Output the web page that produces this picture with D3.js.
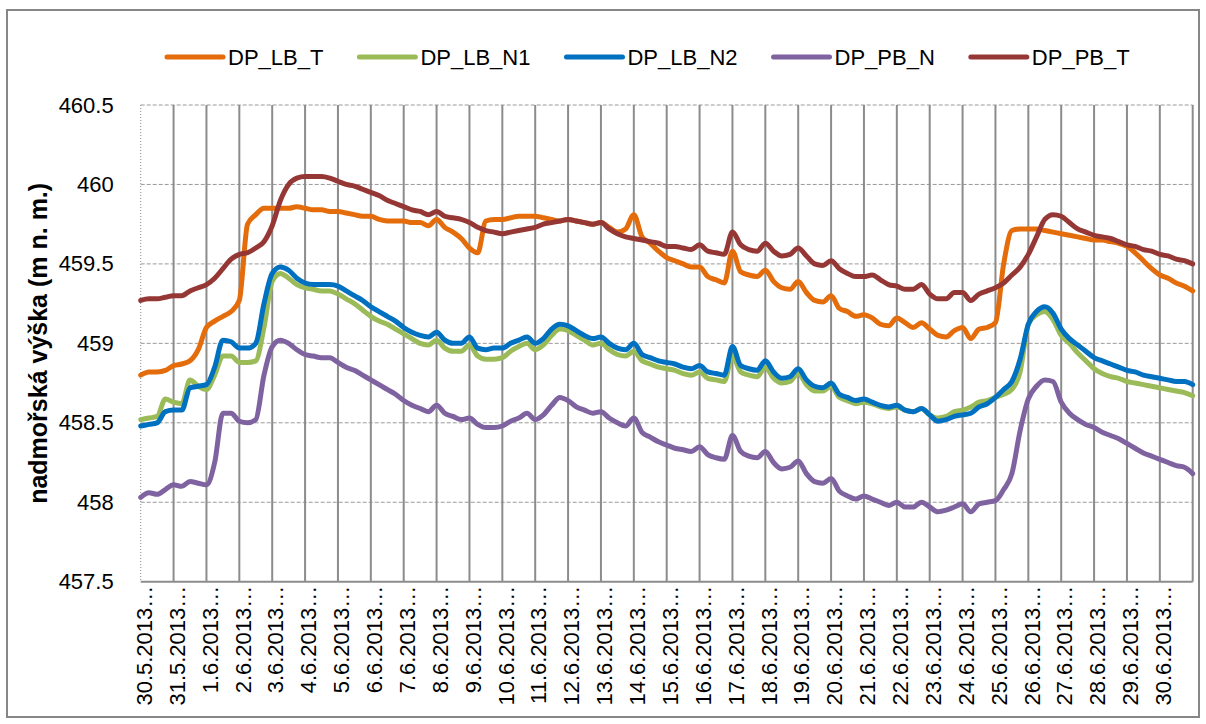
<!DOCTYPE html>
<html>
<head>
<meta charset="utf-8">
<script src="https://cdn.jsdelivr.net/npm/d3@7"></script>
<style>
  body { margin: 0; background: #fff; }
  text { font-family: "Liberation Sans", Arial, sans-serif; fill: #000; }
</style>
</head>
<body>
<div id="chart"></div>
<script>
// day labels (one per day, readings every 6 hours)
const dayLabels = [
    "30.5.2013", "31.5.2013", "1.6.2013", "2.6.2013", "3.6.2013", "4.6.2013",
    "5.6.2013", "6.6.2013", "7.6.2013", "8.6.2013", "9.6.2013", "10.6.2013",
    "11.6.2013", "12.6.2013", "13.6.2013", "14.6.2013", "15.6.2013", "16.6.2013",
    "17.6.2013", "18.6.2013", "19.6.2013", "20.6.2013", "21.6.2013", "22.6.2013",
    "23.6.2013", "24.6.2013", "25.6.2013", "26.6.2013", "27.6.2013", "28.6.2013",
    "29.6.2013", "30.6.2013"
];

const yTicks = [457.5, 458, 458.5, 459, 459.5, 460, 460.5];

const seriesNames = ["DP_LB_T", "DP_LB_N1", "DP_LB_N2", "DP_PB_N", "DP_PB_T"];
const seriesColors = ["#e46c0a", "#9bbb59", "#0070c0", "#7f63a1", "#953735"];

const dp_lb_t = [
    458.80, 458.82, 458.82, 458.83,  458.86, 458.87, 458.89, 458.96,
    459.10, 459.14, 459.17, 459.20,  459.27, 459.75, 459.81, 459.85,
    459.85, 459.85, 459.85, 459.86,  459.85, 459.84, 459.84, 459.83,
    459.83, 459.82, 459.81, 459.80,  459.80, 459.78, 459.77, 459.77,
    459.77, 459.76, 459.76, 459.74,  459.78, 459.73, 459.70, 459.66,
    459.60, 459.57, 459.77, 459.78,  459.78, 459.79, 459.80, 459.80,
    459.80, 459.79, 459.78, 459.77,  459.78, 459.77, 459.76, 459.75,
    459.76, 459.73, 459.70, 459.72,  459.81, 459.67, 459.63, 459.58,
    459.54, 459.52, 459.50, 459.48,  459.48, 459.42, 459.40, 459.38,
    459.58, 459.45, 459.43, 459.42,  459.46, 459.39, 459.35, 459.34,
    459.39, 459.32, 459.27, 459.26,  459.30, 459.22, 459.20, 459.17,
    459.18, 459.16, 459.12, 459.11,  459.16, 459.13, 459.10, 459.13,
    459.09, 459.05, 459.04, 459.08,  459.10, 459.03, 459.09, 459.10,
    459.13, 459.50, 459.71, 459.72,  459.72, 459.72, 459.71, 459.70,
    459.69, 459.68, 459.67, 459.66,  459.65, 459.65, 459.64, 459.63,
    459.61, 459.57, 459.52, 459.47,  459.43, 459.41, 459.38, 459.36,
    459.33
];

const dp_lb_n1 = [
    458.52, 458.53, 458.54, 458.65,  458.63, 458.62, 458.77, 458.73,
    458.71, 458.80, 458.92, 458.92,  458.88, 458.88, 458.89, 459.10,
    459.39, 459.44, 459.41, 459.37,  459.35, 459.34, 459.33, 459.33,
    459.31, 459.28, 459.25, 459.21,  459.17, 459.14, 459.12, 459.09,
    459.06, 459.03, 459.00, 458.99,  459.02, 458.97, 458.95, 458.95,
    458.99, 458.92, 458.90, 458.90,  458.91, 458.95, 458.98, 459.00,
    458.96, 458.99, 459.05, 459.09,  459.08, 459.05, 459.02, 458.99,
    459.00, 458.96, 458.93, 458.92,  458.95, 458.89, 458.87, 458.85,
    458.84, 458.83, 458.81, 458.80,  458.82, 458.78, 458.77, 458.76,
    458.92, 458.82, 458.80, 458.79,  458.85, 458.78, 458.75, 458.76,
    458.81, 458.74, 458.70, 458.70,  458.73, 458.66, 458.64, 458.62,
    458.63, 458.62, 458.60, 458.59,  458.60, 458.58, 458.57, 458.59,
    458.55, 458.53, 458.54, 458.57,  458.58, 458.60, 458.63, 458.64,
    458.66, 458.68, 458.71, 458.82,  459.12, 459.18, 459.20, 459.15,
    459.05, 459.00, 458.94, 458.89,  458.84, 458.81, 458.79, 458.78,
    458.76, 458.75, 458.74, 458.73,  458.72, 458.71, 458.70, 458.69,
    458.67
];

const dp_lb_n2 = [
    458.48, 458.49, 458.50, 458.57,  458.58, 458.58, 458.72, 458.73,
    458.74, 458.85, 459.02, 459.01,  458.97, 458.97, 459.00, 459.25,
    459.44, 459.48, 459.46, 459.41,  459.38, 459.37, 459.37, 459.37,
    459.36, 459.33, 459.30, 459.27,  459.23, 459.20, 459.17, 459.14,
    459.10, 459.07, 459.05, 459.04,  459.07, 459.02, 459.00, 459.00,
    459.04, 458.97, 458.96, 458.97,  458.97, 459.00, 459.02, 459.04,
    459.00, 459.03, 459.09, 459.12,  459.11, 459.08, 459.05, 459.03,
    459.04, 459.00, 458.97, 458.96,  459.00, 458.93, 458.91, 458.89,
    458.88, 458.87, 458.85, 458.84,  458.86, 458.82, 458.81, 458.80,
    458.98, 458.86, 458.84, 458.83,  458.89, 458.82, 458.78, 458.79,
    458.84, 458.77, 458.73, 458.72,  458.75, 458.68, 458.66, 458.64,
    458.65, 458.63, 458.61, 458.60,  458.61, 458.58, 458.57, 458.59,
    458.55, 458.51, 458.52, 458.54,  458.55, 458.56, 458.60, 458.62,
    458.66, 458.71, 458.76, 458.90,  459.12, 459.20, 459.23, 459.19,
    459.09, 459.03, 458.99, 458.95,  458.91, 458.89, 458.87, 458.85,
    458.83, 458.82, 458.80, 458.79,  458.78, 458.77, 458.76, 458.76,
    458.74
];

const dp_pb_n = [
    458.03, 458.06, 458.05, 458.08,  458.11, 458.10, 458.13, 458.12,
    458.11, 458.25, 458.56, 458.56,  458.51, 458.50, 458.52, 458.80,
    458.98, 459.02, 459.00, 458.96,  458.93, 458.92, 458.91, 458.91,
    458.88, 458.85, 458.83, 458.80,  458.77, 458.74, 458.71, 458.68,
    458.64, 458.61, 458.59, 458.57,  458.61, 458.56, 458.54, 458.52,
    458.53, 458.49, 458.47, 458.47,  458.48, 458.51, 458.53, 458.56,
    458.52, 458.55, 458.61, 458.66,  458.64, 458.60, 458.58, 458.56,
    458.57, 458.53, 458.50, 458.48,  458.53, 458.44, 458.41, 458.38,
    458.36, 458.34, 458.33, 458.32,  458.35, 458.30, 458.28, 458.27,
    458.42, 458.32, 458.29, 458.28,  458.32, 458.25, 458.21, 458.22,
    458.26, 458.18, 458.13, 458.12,  458.15, 458.07, 458.04, 458.02,
    458.04, 458.02, 458.00, 457.98,  458.00, 457.97, 457.97, 458.00,
    457.97, 457.94, 457.95, 457.97,  457.99, 457.94, 457.99, 458.00,
    458.01, 458.08, 458.18, 458.45,  458.65, 458.73, 458.77, 458.76,
    458.63, 458.56, 458.52, 458.49,  458.47, 458.44, 458.42, 458.40,
    458.37, 458.34, 458.31, 458.29,  458.27, 458.25, 458.23, 458.22,
    458.18
];

const dp_pb_t = [
    459.27, 459.28, 459.28, 459.29,  459.30, 459.30, 459.33, 459.35,
    459.37, 459.41, 459.47, 459.53,  459.56, 459.57, 459.60, 459.64,
    459.74, 459.90, 460.00, 460.04,  460.05, 460.05, 460.05, 460.04,
    460.02, 460.00, 459.99, 459.97,  459.95, 459.93, 459.90, 459.88,
    459.86, 459.84, 459.83, 459.81,  459.83, 459.80, 459.79, 459.78,
    459.76, 459.73, 459.71, 459.70,  459.69, 459.70, 459.71, 459.72,
    459.73, 459.75, 459.76, 459.77,  459.78, 459.77, 459.76, 459.75,
    459.76, 459.72, 459.69, 459.67,  459.66, 459.65, 459.64, 459.63,
    459.61, 459.61, 459.60, 459.59,  459.62, 459.58, 459.57, 459.56,
    459.70, 459.62, 459.59, 459.58,  459.63, 459.58, 459.55, 459.56,
    459.60, 459.55, 459.50, 459.49,  459.52, 459.47, 459.44, 459.42,
    459.42, 459.43, 459.40, 459.37,  459.36, 459.34, 459.34, 459.37,
    459.31, 459.28, 459.28, 459.32,  459.32, 459.27, 459.31, 459.33,
    459.35, 459.38, 459.43, 459.48,  459.56, 459.67, 459.78, 459.81,
    459.80, 459.76, 459.72, 459.70,  459.68, 459.67, 459.66, 459.64,
    459.62, 459.61, 459.59, 459.58,  459.56, 459.55, 459.53, 459.52,
    459.50
];

const allSeries = [dp_lb_t, dp_lb_n1, dp_lb_n2, dp_pb_n, dp_pb_t];

const width = 1206, height = 724;
const plot = { left: 140.7, right: 1192.7, top: 105, bottom: 581.7 };
const readingsPerDay = 4;

const svg = d3.select("#chart")
    .append("svg")
    .attr("width", width)
    .attr("height", height);

// outer chart frame
svg.append("rect")
    .attr("x", 7).attr("y", 10)
    .attr("width", 1192).attr("height", 707)
    .attr("fill", "#fff")
    .attr("stroke", "#878787")
    .attr("stroke-width", 2);

const x = d3.scaleLinear()
    .domain([0, dayLabels.length])
    .range([plot.left, plot.right]);

const y = d3.scaleLinear()
    .domain([d3.min(yTicks), d3.max(yTicks)])
    .range([plot.bottom, plot.top]);

// horizontal dashed gridlines
svg.append("g")
    .selectAll("line")
    .data(yTicks.slice(1))
    .join("line")
    .attr("x1", plot.left).attr("x2", plot.right)
    .attr("y1", d => y(d)).attr("y2", d => y(d))
    .attr("stroke", "#9a9a9a")
    .attr("stroke-width", 1)
    .attr("stroke-dasharray", "4,2");

// vertical day gridlines
svg.append("g")
    .selectAll("line")
    .data(d3.range(1, dayLabels.length + 1))
    .join("line")
    .attr("x1", d => x(d)).attr("x2", d => x(d))
    .attr("y1", plot.top).attr("y2", plot.bottom)
    .attr("stroke", "#8c8c8c")
    .attr("stroke-width", 2);

// left edge dotted, bottom axis solid
svg.append("line")
    .attr("x1", plot.left).attr("x2", plot.left)
    .attr("y1", plot.top).attr("y2", plot.bottom)
    .attr("stroke", "#8c8c8c")
    .attr("stroke-dasharray", "1,2");

svg.append("line")
    .attr("x1", plot.left).attr("x2", plot.right)
    .attr("y1", plot.bottom).attr("y2", plot.bottom)
    .attr("stroke", "#8c8c8c")
    .attr("stroke-width", 2);

// y axis labels
const yAxis = d3.axisLeft(y)
    .tickValues(yTicks)
    .tickFormat(d => String(d))
    .tickSize(0)
    .tickPadding(27);

svg.append("g")
    .attr("transform", `translate(${plot.left},0)`)
    .call(yAxis)
    .call(g => g.select(".domain").remove())
    .selectAll("text")
    .attr("font-family", "Liberation Sans, Arial, sans-serif")
    .attr("font-size", 22);

// x axis labels, rotated
const xAxis = d3.axisBottom(x)
    .tickValues(d3.range(dayLabels.length))
    .tickFormat(i => dayLabels[i] + "…")
    .tickSize(0);

svg.append("g")
    .attr("transform", `translate(0,${plot.bottom})`)
    .call(xAxis)
    .call(g => g.select(".domain").remove())
    .selectAll("text")
    .attr("font-family", "Liberation Sans, Arial, sans-serif")
    .attr("font-size", 22)
    .attr("transform", "rotate(-90)")
    .attr("text-anchor", "end")
    .attr("x", -4)
    .attr("y", 3)
    .attr("dy", "0.35em");

// y axis title
svg.append("text")
    .attr("transform", `translate(47,${(plot.top + plot.bottom) / 2}) rotate(-90)`)
    .attr("text-anchor", "middle")
    .attr("font-size", 25)
    .attr("font-weight", "bold")
    .text("nadmořská výška (m n. m.)");

// series lines
const line = d3.line()
    .x((d, i) => x(i / readingsPerDay))
    .y(d => y(d))
    .curve(d3.curveMonotoneX);

svg.append("g")
    .selectAll("path")
    .data(allSeries)
    .join("path")
    .attr("fill", "none")
    .attr("stroke", (d, i) => seriesColors[i])
    .attr("stroke-width", 5)
    .attr("stroke-linejoin", "round")
    .attr("stroke-linecap", "round")
    .attr("d", line);

// legend
const legend = svg.append("g").attr("transform", "translate(0,57)");
let lx = 167;
seriesNames.forEach((name, i) => {
    legend.append("line")
        .attr("x1", lx).attr("x2", lx + 56)
        .attr("y1", 0).attr("y2", 0)
        .attr("stroke", seriesColors[i])
        .attr("stroke-width", 5)
        .attr("stroke-linecap", "round");
    const t = legend.append("text")
        .attr("x", lx + 61)
        .attr("dy", "0.36em")
        .attr("font-size", 22)
        .text(name);
    lx += 61 + t.node().getComputedTextLength() + 36;
});
</script>
</body>
</html>
